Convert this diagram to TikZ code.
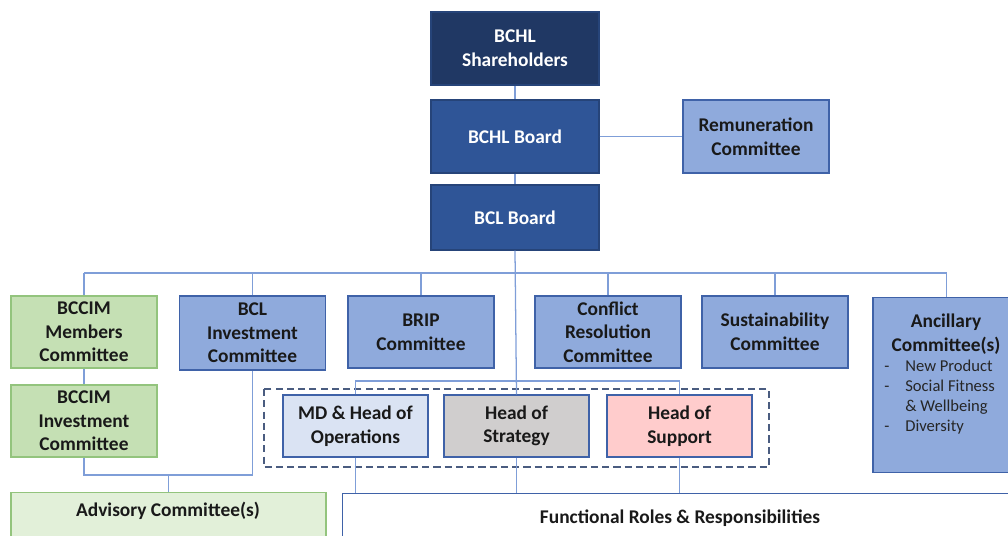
\documentclass[tikz,border=0pt]{standalone}
\usepackage{fontspec}
\setmainfont{Carlito}
\definecolor{navy}{HTML}{203864}
\definecolor{boardblue}{HTML}{2F5597}
\definecolor{combl}{HTML}{8FAADC}
\definecolor{comborder}{HTML}{3F62A8}
\definecolor{greenfill}{HTML}{C5E0B4}
\definecolor{greenline}{HTML}{93C47D}
\definecolor{advfill}{HTML}{E2F0D9}
\definecolor{mdfill}{HTML}{DAE3F3}
\definecolor{stratfill}{HTML}{D0CECE}
\definecolor{supfill}{HTML}{FFCCCC}
\definecolor{linkblue}{HTML}{7F9ED8}
\definecolor{framegray}{HTML}{4A5C80}
\begin{document}
\begin{tikzpicture}[x=0.025cm, y=-0.025cm,
	orgbox/.style={draw, line width=0.8pt, align=center, inner sep=2pt, text=black!90,
		font=\fontsize{13.8}{16.8}\selectfont\bfseries},
	board/.style={orgbox, fill=boardblue, draw=boardblue!80!black, text=white, minimum width=4.2cm},
	comm/.style={orgbox, fill=combl, draw=comborder, minimum width=3.65cm, minimum height=1.8cm},
	grn/.style={orgbox, fill=greenfill, draw=greenline, minimum width=3.65cm, minimum height=1.8cm},
	headbox/.style={orgbox, draw=comborder, minimum width=3.625cm, minimum height=1.55cm},
	conn/.style={draw=linkblue, line width=0.9pt}]
	\useasboundingbox (0,0) rectangle (1008,535);
	\clip (0,0) rectangle (1008,535);

	% board level
	\node[board, fill=navy, minimum height=1.825cm] (share) at (515,48.5) {BCHL\\Shareholders};
	\node[board, minimum height=1.825cm] (hlboard) at (515,136.5) {BCHL Board};
	\node[board, minimum height=1.625cm] (clboard) at (515,217.5) {BCL Board};
	\node[comm, minimum height=1.825cm] (remun) at (756,136.5) {Remuneration\\Committee};

	% committees
	\node[grn] (bccimm) at (84,332) {BCCIM\\Members\\Committee};
	\node[comm, minimum height=1.85cm] (bclinv) at (252.5,333) {BCL\\Investment\\Committee};
	\node[comm] (brip) at (421,332) {BRIP\\Committee};
	\node[comm] (conflict) at (608,332) {Conflict\\Resolution\\Committee};
	\node[comm] (sustain) at (775,332) {Sustainability\\Committee};
	\node[comm, minimum width=3.675cm, minimum height=4.375cm, anchor=north] (ancil) at (946.5,297) {};
	\node[align=center, font=\fontsize{13.8}{16.8}\selectfont\bfseries, text=black!90] (ancilhead) at (946,334) {Ancillary\\Committee(s)};
	\node[anchor=north west, inner sep=0pt, text=black!85, font=\fontsize{11.8}{14.2}\selectfont] (ancillist) at (884,357)
		{\begin{tabular}{@{}l@{\hspace{0.4cm}}l@{}}
			-&New Product\\
			-&Social Fitness\\
			&\& Wellbeing\\
			-&Diversity
		\end{tabular}};
	\node[grn] (bccimi) at (84,421) {BCCIM\\Investment\\Committee};

	% executive heads
	\draw[dashed, dash pattern=on 5pt off 3pt, draw=framegray, line width=0.8pt] (264,389) rectangle (769,467);
	\node[headbox, fill=mdfill] (mdops) at (355.5,426) {MD \& Head of\\Operations};
	\node[headbox, fill=stratfill] (strat) at (516.5,426) {Head of\\Strategy};
	\node[headbox, fill=supfill] (support) at (679.5,426) {Head of\\Support};

	% bottom row
	\node[orgbox, fill=advfill, draw=greenline, minimum width=7.875cm, minimum height=2cm, anchor=north] (advisory) at (168.5,492) {};
	\node[font=\fontsize{13.8}{16.8}\selectfont\bfseries, text=black!90] (advtext) at (168,511) {Advisory Committee(s)};
	\node[orgbox, fill=white, draw=comborder, minimum width=17cm, minimum height=2cm, anchor=north west] (func) at (342,493) {};
	\node[font=\fontsize{13.8}{16.8}\selectfont\bfseries, text=black!90] (functext) at (680,518) {Functional Roles \& Responsibilities};

	% connectors
	\coordinate (busL) at (84,273);
	\coordinate (busR) at (946.5,273);
	\coordinate (midbar) at (516.5,381);
	\coordinate (advjoin) at (168.5,475);
	\draw[conn] (share) -- (hlboard);
	\draw[conn] (hlboard) -- (clboard);
	\draw[conn] (hlboard) -- (remun);
	\draw[conn] (busL) -- (busR);
	\foreach \n in {bccimm, bclinv, brip, conflict, sustain, ancil}
		\draw[conn] (\n.north) -- (\n.north |- busL);
	\draw[conn] (clboard.south) -- (strat.north);
	\draw[conn] (mdops.north) |- (midbar) -| (support.north);
	\foreach \n in {mdops, strat, support}
		\draw[conn] (\n.south) -- (\n.south |- func.north);
	\draw[conn] (bccimm) -- (bccimi);
	\draw[conn] (bccimi.south) |- (advjoin) -| (bclinv.south);
	\draw[conn] (advjoin) -- (advisory.north);
\end{tikzpicture}
\end{document}
